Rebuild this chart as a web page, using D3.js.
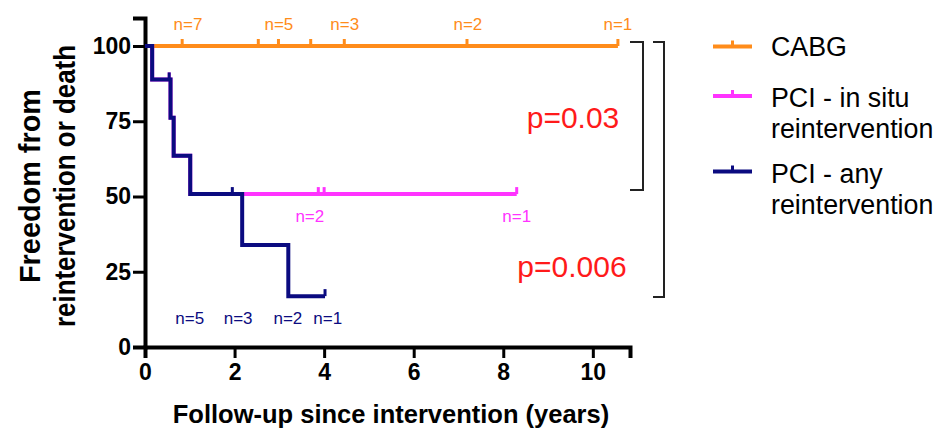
<!DOCTYPE html>
<html>
<head>
<meta charset="utf-8">
<script src="https://cdn.jsdelivr.net/npm/d3@7"></script>
<style>
  html, body { margin: 0; padding: 0; background: #fff; }
  svg { display: block; font-family: "Liberation Sans", Arial, Helvetica, sans-serif; }
</style>
</head>
<body>
<svg id="chart" width="946" height="429"></svg>
<script>
// ---------- data ----------
const xTicks = [0, 2, 4, 6, 8, 10];
const yTicks = [0, 25, 50, 75, 100];

const cabgTimes    = [0];
const cabgSurv     = [100];
const cabgEnd      = 10.56;
const cabgCensor   = [0.83, 2.53, 2.98, 3.70, 4.45, 7.19, 10.56];
const cabgNTimes   = [0.96, 2.99, 4.46, 7.21, 10.56];
const cabgNLabels  = ["n=7", "n=5", "n=3", "n=2", "n=1"];

const insituTimes  = [0, 0.16, 0.57, 0.64, 1.01];
const insituSurv   = [100, 88.9, 76.2, 63.5, 50.8];
const insituEnd    = 8.30;
const insituCensor = [0.54, 3.87, 4.00, 8.30];
const insituNTimes = [3.68, 8.30];
const insituNLabels= ["n=2", "n=1"];

const anyTimes     = [0, 0.16, 0.57, 0.64, 1.01, 2.17, 3.20];
const anySurv      = [100, 88.9, 76.2, 63.5, 50.8, 33.9, 16.9];
const anyEnd       = 4.02;
const anyCensor    = [0.54, 1.95, 4.02];
const anyNTimes    = [1.00, 2.08, 3.19, 4.08];
const anyNLabels   = ["n=5", "n=3", "n=2", "n=1"];

const legendLabels = [["CABG"], ["PCI - in situ", "reintervention"], ["PCI - any", "reintervention"]];
const pValues      = ["p=0.03", "p=0.006"];
const yTitleLines  = ["Freedom from", "reintervention or death"];
const xTitle       = "Follow-up since intervention (years)";

// ---------- styles ----------
const cOrange = "#ff8c1a", cPink = "#ff33ff", cNavy = "#0b0b80", cRed = "#ff1a1a";

const svg = d3.select("#chart");
const x = d3.scaleLinear().domain([0, 10.83]).range([145, 630]);
const y = d3.scaleLinear().domain([0, 109.3]).range([347, 18]);

// axes
const xAxis = svg.append("g").attr("transform", `translate(0,${y(0)})`)
  .call(d3.axisBottom(x).tickValues(xTicks).tickSizeOuter(0).tickSize(11).tickPadding(5));
const yAxis = svg.append("g").attr("transform", `translate(${x(0)},0)`)
  .call(d3.axisLeft(y).tickValues(yTicks).tickSizeOuter(0).tickSize(12).tickPadding(2));
[xAxis, yAxis].forEach(g => {
  g.select(".domain").attr("stroke", "#000").attr("stroke-width", 4);
  g.selectAll(".tick line").attr("stroke", "#000").attr("stroke-width", 3);
  g.selectAll(".tick text").attr("fill", "#000").attr("font-size", 23).attr("font-weight", "bold")
    .attr("font-family", '"Liberation Sans", Arial, sans-serif');
});
xAxis.selectAll(".tick text").attr("dy", "0.72em");

// axis titles
svg.append("text").attr("x", 391).attr("y", 423).attr("text-anchor", "middle")
  .attr("font-size", 25.5).attr("font-weight", "bold").text(xTitle);
const yt = svg.append("text").attr("transform", "translate(0,186) rotate(-90)")
  .attr("text-anchor", "middle").attr("font-size", 29).attr("font-weight", "bold");
yt.append("tspan").attr("x", 0).attr("y", 40).attr("textLength", 194)
  .attr("lengthAdjust", "spacingAndGlyphs").text(yTitleLines[0]);
yt.append("tspan").attr("x", 0).attr("y", 75).attr("textLength", 282)
  .attr("lengthAdjust", "spacingAndGlyphs").text(yTitleLines[1]);

// curves
const line = d3.line().x(d => x(d[0])).y(d => y(d[1])).curve(d3.curveStepAfter);
function drawSeries(times, surv, end, censor, color) {
  const pts = times.map((t, i) => [t, surv[i]]);
  pts.push([end, surv[surv.length - 1]]);
  svg.append("path").attr("d", line(pts)).attr("fill", "none")
    .attr("stroke", color).attr("stroke-width", 4).attr("stroke-linejoin", "miter");
  const survAt = t => { let s = surv[0]; times.forEach((tt, i) => { if (tt <= t) s = surv[i]; }); return s; };
  censor.forEach(t => {
    const yy = y(survAt(t));
    svg.append("line").attr("x1", x(t)).attr("x2", x(t)).attr("y1", yy).attr("y2", yy - 7)
      .attr("stroke", color).attr("stroke-width", 3);
  });
}
drawSeries(cabgTimes, cabgSurv, cabgEnd, cabgCensor, cOrange);
drawSeries(insituTimes, insituSurv, insituEnd, insituCensor, cPink);
drawSeries(anyTimes, anySurv, anyEnd, anyCensor, cNavy);

// n labels
function nLabels(times, labels, yy, color) {
  times.forEach((t, i) => svg.append("text").attr("x", x(t)).attr("y", yy)
    .attr("text-anchor", "middle").attr("font-size", 17).attr("fill", color).text(labels[i]));
}
nLabels(cabgNTimes, cabgNLabels, y(cabgSurv[0]) - 16, cOrange);
nLabels(insituNTimes, insituNLabels, y(insituSurv[insituSurv.length - 1]) + 28, cPink);
nLabels(anyNTimes, anyNLabels, y(0) - 23, cNavy);

// p-values
svg.append("text").attr("x", 573).attr("y", 128).attr("text-anchor", "middle")
  .attr("font-size", 30).attr("fill", cRed).text(pValues[0]);
svg.append("text").attr("x", 572).attr("y", 277).attr("text-anchor", "middle")
  .attr("font-size", 30).attr("fill", cRed).text(pValues[1]);

// brackets
svg.append("path").attr("d", "M630,42H643V190H630").attr("fill", "none").attr("stroke", "#222").attr("stroke-width", 2);
svg.append("path").attr("d", "M653,42H664V297H653").attr("fill", "none").attr("stroke", "#222").attr("stroke-width", 2);

// legend
const legColors = [cOrange, cPink, cNavy];
const legLineY = [46.5, 96, 171.5];
const legBase = [56, 107, 183];
legendLabels.forEach((lines, i) => {
  svg.append("line").attr("x1", 713).attr("x2", 752).attr("y1", legLineY[i]).attr("y2", legLineY[i])
    .attr("stroke", legColors[i]).attr("stroke-width", 4);
  svg.append("line").attr("x1", 732.5).attr("x2", 732.5).attr("y1", legLineY[i]).attr("y2", legLineY[i] - 6)
    .attr("stroke", legColors[i]).attr("stroke-width", 3);
  const t = svg.append("text").attr("font-size", 26.8).attr("fill", "#000");
  lines.forEach((s, j) => t.append("tspan").attr("x", 771).attr("y", legBase[i] + j * 31).text(s));
});
</script>
</body>
</html>
